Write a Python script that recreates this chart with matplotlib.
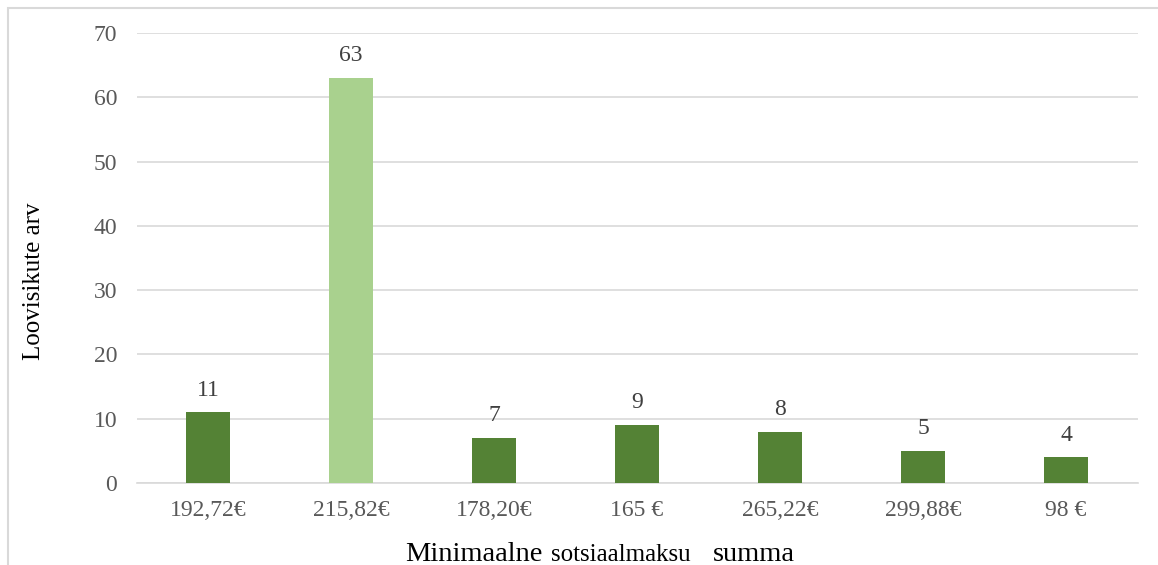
import matplotlib
matplotlib.use("Agg")
import matplotlib.pyplot as plt
from matplotlib.patches import Rectangle

categories = ["192,72€", "215,82€", "178,20€", "165 €", "265,22€", "299,88€", "98 €"]
values = [11, 63, 7, 9, 8, 5, 4]
highlight = [False, True, False, False, False, False, False]
yticks = [0, 10, 20, 30, 40, 50, 60, 70]

plt.rcParams['font.family'] = ['Liberation Serif', 'DejaVu Serif']

W, H = 1158, 565
fig = plt.figure(figsize=(W / 100, H / 100), dpi=100)
ax = fig.add_axes([136.5 / W, 1 - 483 / H, 1001 / W, 450 / H])

dark = "#548235"
light = "#A9D18E"
colors = [light if h else dark for h in highlight]
x = list(range(len(categories)))
bars = ax.bar(x, values, width=0.31, color=colors, zorder=3)

for xi, v in zip(x, values):
    ax.annotate(str(v), (xi, v), xytext=(0, 12), textcoords="offset points",
                ha="center", va="baseline", fontsize=17, color="#404040")

ax.set_xlim(-0.5, len(categories) - 0.5)
ax.set_ylim(0, 70)
ax.set_yticks(yticks)
ax.set_xticks(x)
ax.set_xticklabels(categories)
ax.tick_params(axis="both", length=0, labelsize=17, colors="#595959")
ax.tick_params(axis="x", pad=12)
ax.tick_params(axis="y", pad=14)
ax.grid(axis="y", color="#D9D9D9", linewidth=1.2, zorder=0)
for s in ["top", "right", "left"]:
    ax.spines[s].set_visible(False)
ax.spines["bottom"].set_color("#D9D9D9")
ax.spines["bottom"].set_linewidth(1.2)

fig.text(34 / W, 1 - 281 / H, "Loovisikute arv", fontsize=18, color="black",
         rotation=90, ha="center", va="center")

# x label with mixed font sizes (shared baseline)
base = 1 - 561 / H
fig.text(405 / W, base, "Minimaalne", fontsize=20.5, color="black",
         ha="left", va="baseline")
fig.text(551 / W, base, "sotsiaalmaksu", fontsize=18, color="black",
         ha="left", va="baseline")
fig.text(713 / W, base, "summa", fontsize=20.5, color="black",
         ha="left", va="baseline")

# outer border
fig.patches.append(Rectangle((8 / W, -0.1), 1.2, 1.1 - 8 / H,
                             transform=fig.transFigure, fill=False,
                             edgecolor="#D9D9D9", linewidth=1.5))

fig.savefig("out.png", dpi=100)
